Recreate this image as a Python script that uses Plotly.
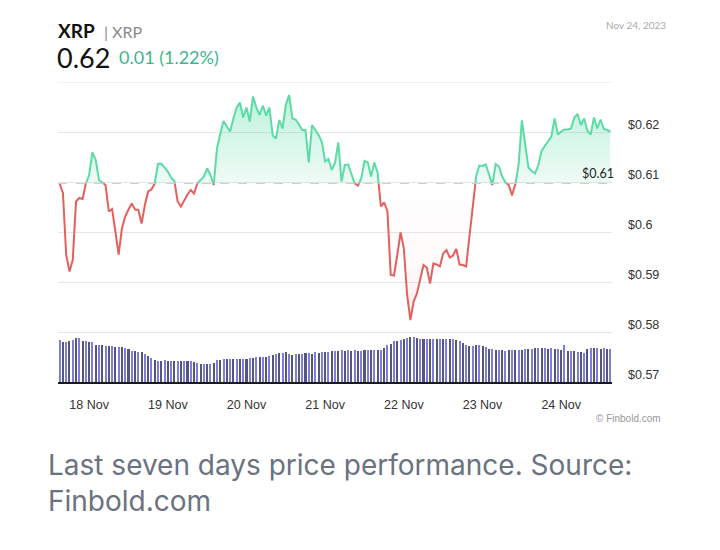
import numpy as np
import pandas as pd
import plotly.graph_objects as go

# hourly XRP price, 17 Nov 15:00 -> 24 Nov 15:00
prices = [
    0.6097, 0.6078, 0.5954, 0.5921, 0.5944, 0.6061, 0.6068, 0.6066, 0.6097, 0.6114,
    0.6159, 0.6144, 0.6104, 0.6099, 0.6094, 0.6041, 0.6046, 0.6001, 0.5955, 0.6007,
    0.6031, 0.6045, 0.6057, 0.6045, 0.6044, 0.6017, 0.6054, 0.6081, 0.6085, 0.6097,
    0.6136, 0.6137, 0.6130, 0.6121, 0.6109, 0.6102, 0.6061, 0.6051, 0.6064, 0.6075,
    0.6084, 0.6077, 0.6097, 0.6104, 0.6111, 0.6127, 0.6114, 0.6094, 0.6167, 0.6197,
    0.6222, 0.6211, 0.6201, 0.6227, 0.6249, 0.6259, 0.6229, 0.6249, 0.6221, 0.6271,
    0.6249, 0.6234, 0.6253, 0.6233, 0.6249, 0.6193, 0.6187, 0.6224, 0.6207, 0.6254,
    0.6274, 0.6227, 0.6225, 0.6215, 0.6204, 0.6204, 0.6139, 0.6214, 0.6204, 0.6194,
    0.6180, 0.6141, 0.6146, 0.6124, 0.6138, 0.6179, 0.6101, 0.6134, 0.6135, 0.6117,
    0.6097, 0.6093, 0.6107, 0.6142, 0.6139, 0.6111, 0.6139, 0.6118, 0.6051, 0.6059,
    0.6041, 0.5914, 0.5913, 0.5954, 0.5999, 0.5967, 0.5874, 0.5824, 0.5861, 0.5877,
    0.5907, 0.5934, 0.5929, 0.5897, 0.5937, 0.5935, 0.5931, 0.5957, 0.5964, 0.5949,
    0.5953, 0.5966, 0.5935, 0.5934, 0.5931, 0.5987, 0.6040, 0.6110, 0.6133, 0.6132,
    0.6135, 0.6117, 0.6094, 0.6136, 0.6131, 0.6111, 0.6099, 0.6094, 0.6073, 0.6094,
    0.6134, 0.6223, 0.6177, 0.6129, 0.6122, 0.6117, 0.6133, 0.6162, 0.6172, 0.6181,
    0.6191, 0.6227, 0.6195, 0.6201, 0.6205, 0.6205, 0.6207, 0.6229, 0.6236, 0.6214,
    0.6227, 0.6202, 0.6195, 0.6229, 0.6207, 0.6225, 0.6206, 0.6204, 0.6201,
]

# hourly volume (millions, approximate)
volume = [
    42, 40, 40, 41, 42, 44, 44, 41, 41, 40,
    40, 37, 37, 37, 36, 36, 36, 35, 35, 35,
    34, 33, 31, 31, 30, 30, 28, 26, 24, 22,
    21, 21, 22, 21, 21, 21, 21, 21, 21, 21,
    21, 20, 19, 18, 18, 18, 18, 19, 22, 22,
    23, 23, 23, 23, 23, 23, 23, 23, 24, 24,
    25, 25, 25, 25, 26, 27, 28, 29, 29, 30,
    28, 27, 28, 28, 28, 29, 29, 28, 30, 29,
    30, 30, 30, 31, 31, 31, 32, 31, 32, 31,
    32, 31, 31, 32, 32, 32, 32, 32, 32, 34,
    37, 38, 41, 41, 42, 43, 44, 45, 45, 44,
    43, 43, 43, 43, 43, 43, 43, 43, 43, 43,
    43, 42, 41, 39, 37, 36, 36, 37, 37, 36,
    35, 33, 33, 32, 32, 32, 31, 32, 32, 32,
    32, 32, 33, 33, 33, 34, 34, 34, 34, 33,
    34, 33, 33, 32, 37, 31, 31, 31, 30, 30,
    29, 33, 34, 34, 34, 33, 34, 33, 33,
]

price_ticks = [0.57, 0.58, 0.59, 0.60, 0.61, 0.62, 0.63]
price_labels = ["$0.57", "$0.58", "$0.59", "$0.6", "$0.61", "$0.62", ""]

GREEN = "#5ddba6"
RED = "#e4605e"
GRID = "#e6e6e6"

times = pd.date_range("2023-11-17 15:00", periods=len(prices), freq="h")
base = prices[0]

# split the line where it crosses the opening price
p = np.array(prices)
tn = times.values.astype("int64")
xs, ys = [], []
for i in range(len(p)):
    if i > 0 and (p[i - 1] - base) * (p[i] - base) < 0:
        f = (base - p[i - 1]) / (p[i] - p[i - 1])
        xs.append(int(tn[i - 1] + f * (tn[i] - tn[i - 1])))
        ys.append(base)
    xs.append(int(tn[i]))
    ys.append(p[i])
xs = pd.to_datetime(np.array(xs, dtype="int64"))
ys = np.array(ys)
up = np.where(ys >= base, ys, np.nan)
down = np.where(ys <= base, ys, np.nan)
baseline = np.full(len(ys), base)

fig = go.Figure()

fig.add_trace(go.Bar(
    x=times, y=volume, yaxis="y2",
    width=0.62 * 3600 * 1000,
    marker=dict(color=["#7d7ddd" if i % 2 == 0 else "#55557f" for i in range(len(volume))],
                line_width=0),
    hoverinfo="skip",
))

fig.add_trace(go.Scatter(x=xs, y=baseline, mode="lines", line_width=0, hoverinfo="skip"))
fig.add_trace(go.Scatter(
    x=xs, y=np.maximum(ys, base), mode="lines", line_width=0, fill="tonexty",
    fillgradient=dict(type="vertical",
                      colorscale=[[0, "rgba(93,219,166,0.10)"], [1, "rgba(93,219,166,0.40)"]]),
    hoverinfo="skip",
))
fig.add_trace(go.Scatter(x=xs, y=baseline, mode="lines", line_width=0, hoverinfo="skip"))
fig.add_trace(go.Scatter(
    x=xs, y=np.minimum(ys, base), mode="lines", line_width=0, fill="tonexty",
    fillgradient=dict(type="vertical",
                      colorscale=[[0, "rgba(228,96,94,0.12)"], [0.4, "rgba(228,96,94,0.03)"],
                                  [1, "rgba(228,96,94,0.0)"]]),
    hoverinfo="skip",
))

fig.add_hline(y=base, line=dict(color="#cfcfcf", width=1, dash="dash"))
# top grid line, plotly skips it at the range edge
fig.add_hline(y=price_ticks[-1], line=dict(color=GRID, width=1), layer="below")

fig.add_trace(go.Scatter(x=xs, y=up, mode="lines", line=dict(color=GREEN, width=2),
                         connectgaps=False))
fig.add_trace(go.Scatter(x=xs, y=down, mode="lines", line=dict(color=RED, width=2),
                         connectgaps=False))

half = pd.Timedelta(minutes=30)
fig.update_layout(
    width=720, height=550,
    margin=dict(l=50, r=116, t=74, b=176),
    paper_bgcolor="white", plot_bgcolor="white",
    showlegend=False,
    bargap=0,
    xaxis=dict(
        type="date",
        range=[times[0] - half, times[-1] + half],
        tick0="2023-11-18", dtick=86400000, tickformat="%-d %b",
        showgrid=False, zeroline=False,
        showline=True, linecolor="#1a1a1a", linewidth=2,
        ticks="", ticklabelstandoff=10,
        tickfont=dict(family="Liberation Sans, Arial", size=12.5, color="#333"),
    ),
    yaxis=dict(
        side="right", range=[0.57, 0.63],
        tickvals=price_ticks, ticktext=price_labels,
        showgrid=True, gridcolor=GRID, gridwidth=1, zeroline=False,
        ticks="", ticklabelstandoff=15, ticklabelshift=-7,
        tickfont=dict(family="Liberation Sans, Arial", size=12.5, color="#333"),
    ),
    yaxis2=dict(overlaying="y", range=[0, 300], visible=False),
)


# page pixel -> paper coords (plot area sits at x 58..612, y 82..382 on the page)
def px_x(x):
    return (x - 58) / 554


def px_y(y):
    return (382 - y) / 300


notes = [
    dict(text="<b>XRP</b>", x=px_x(56), y=px_y(30), size=19, color="#111", family="Lato"),
    dict(text="| XRP", x=px_x(102), y=px_y(31), size=16, color="#8a8a8a", family="Lato"),
    dict(text="0.62", x=px_x(55), y=px_y(57), size=27, color="#111", family="Lato"),
    dict(text="0.01 (1.22%)", x=px_x(117), y=px_y(57), size=18, color="#41b58c", family="Lato"),
]
for n in notes:
    fig.add_annotation(text=n["text"], xref="paper", yref="paper", x=n["x"], y=n["y"],
                       xanchor="left", yanchor="middle", showarrow=False,
                       font=dict(size=n["size"], color=n["color"], family=n["family"]))

fig.add_annotation(text="Nov 24, 2023", xref="paper", yref="paper", x=px_x(668), y=px_y(25),
                   xanchor="right", yanchor="middle", showarrow=False,
                   font=dict(size=10, color="#aaaaaa", family="Lato"))
fig.add_annotation(text="© Finbold.com", xref="paper", yref="paper", x=px_x(663), y=px_y(418),
                   xanchor="right", yanchor="middle", showarrow=False,
                   font=dict(size=10, color="#999999", family="Liberation Sans, Arial"))
fig.add_annotation(text=f"${base:.2f}", xref="paper", yref="y", x=1.008, y=base,
                   xanchor="right", yanchor="bottom", yshift=1, showarrow=False,
                   font=dict(size=12.5, color="#222", family="Lato"))
fig.add_annotation(text="Last seven days price performance. Source:<br>Finbold.com",
                   xref="paper", yref="paper", x=px_x(46), y=px_y(446),
                   xanchor="left", yanchor="top", align="left", showarrow=False,
                   font=dict(size=28, color="#6b7280", family="Inter"))

fig.write_html("out.html")
